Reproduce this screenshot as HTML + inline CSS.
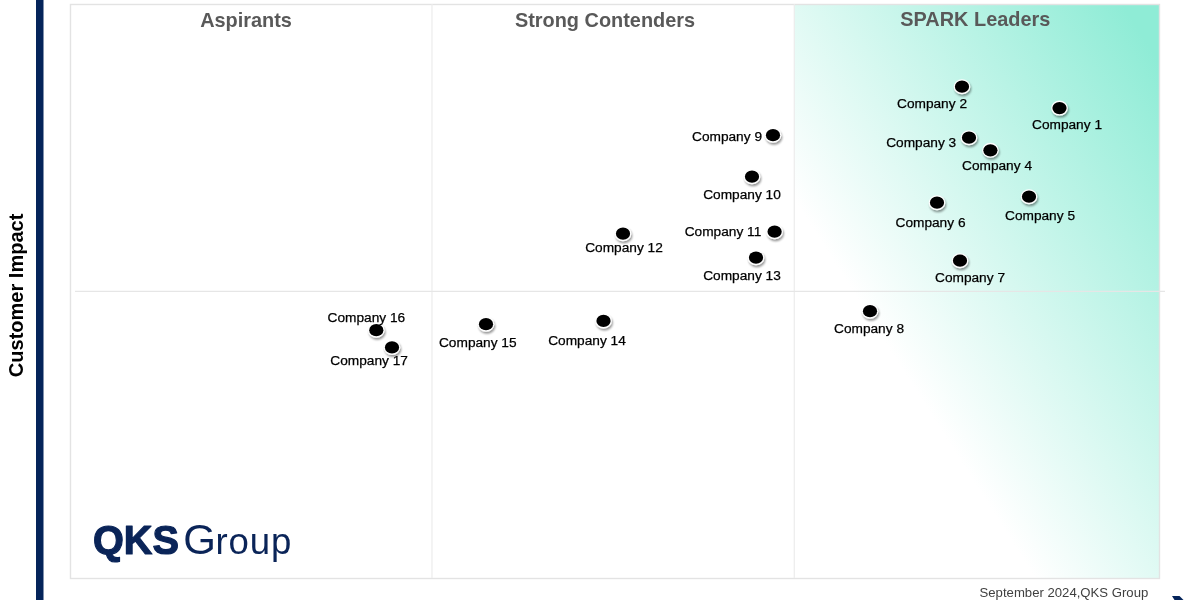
<!DOCTYPE html>
<html lang="en">
<head>
<meta charset="utf-8">
<title>SPARK Matrix</title>
<style>
html,body{margin:0;padding:0;background:#fff;}
body{width:1200px;height:600px;overflow:hidden;font-family:"Liberation Sans",Arial,sans-serif;}
svg{display:block;position:absolute;left:0;top:0;}
text{font-family:"Liberation Sans",Arial,sans-serif;}
.hd{font-weight:bold;font-size:19.9px;fill:#595959;text-anchor:middle;}
.lb{font-size:13.7px;fill:#000;stroke:#000;stroke-width:0.25px;text-anchor:middle;}
.ax{font-weight:bold;font-size:20.05px;fill:#000;text-anchor:middle;}
.ft{font-size:13.15px;fill:#404040;text-anchor:end;}
</style>
</head>
<body>
<svg width="1200" height="600" viewBox="0 0 1200 600">
<defs>
<linearGradient id="lg" x1="0" y1="1" x2="1" y2="0">
<stop offset="0" stop-color="#ffffff"/>
<stop offset="0.33" stop-color="#ffffff"/>
<stop offset="0.95" stop-color="#8fecd6"/>
<stop offset="1" stop-color="#8fecd6"/>
</linearGradient>
<filter id="sh" x="-50%" y="-50%" width="200%" height="200%">
<feGaussianBlur in="SourceAlpha" stdDeviation="1.3"/>
<feOffset dx="0.7" dy="1.9" result="b"/>
<feComponentTransfer><feFuncA type="linear" slope="0.42"/></feComponentTransfer>
<feMerge><feMergeNode/><feMergeNode in="SourceGraphic"/></feMerge>
</filter>
</defs>
<rect x="0" y="0" width="1200" height="600" fill="#ffffff"/>
<!-- leaders gradient -->
<rect x="794" y="4" width="365" height="574" fill="url(#lg)"/>
<!-- frame -->
<rect x="70.5" y="4.5" width="1089" height="574" fill="none" stroke="#e3e3e3" stroke-width="1.4"/>
<line x1="432" y1="4" x2="432" y2="578" stroke="#ececec" stroke-width="1.2"/>
<line x1="794.3" y1="4" x2="794.3" y2="578" stroke="#ececec" stroke-width="1.2"/>
<line x1="75" y1="291.3" x2="1165" y2="291.3" stroke="#e6e6e6" stroke-width="1.2"/>
<!-- axis bar -->
<rect x="36" y="0" width="7.5" height="600" fill="#05245a"/>
<path d="M1172 596 L1179.5 596 L1183.5 600 L1174.5 600 Z" fill="#05245a"/>
<text class="ax" transform="translate(22.6 295.4) rotate(-90)">Customer Impact</text>
<text class="hd" x="246" y="26.6">Aspirants</text>
<text class="hd" x="605" y="26.5">Strong Contenders</text>
<text class="hd" x="975.3" y="26.4">SPARK Leaders</text>
<ellipse cx="1059.5" cy="108.1" rx="8.3" ry="7.5" fill="#fff" filter="url(#sh)"/><ellipse cx="1059.5" cy="108.1" rx="7.1" ry="6.15" fill="#000"/>
<ellipse cx="962" cy="86.7" rx="8.3" ry="7.5" fill="#fff" filter="url(#sh)"/><ellipse cx="962" cy="86.7" rx="7.1" ry="6.15" fill="#000"/>
<ellipse cx="969" cy="137.7" rx="8.3" ry="7.5" fill="#fff" filter="url(#sh)"/><ellipse cx="969" cy="137.7" rx="7.1" ry="6.15" fill="#000"/>
<ellipse cx="990.4" cy="150.3" rx="8.3" ry="7.5" fill="#fff" filter="url(#sh)"/><ellipse cx="990.4" cy="150.3" rx="7.1" ry="6.15" fill="#000"/>
<ellipse cx="1029" cy="196.7" rx="8.3" ry="7.5" fill="#fff" filter="url(#sh)"/><ellipse cx="1029" cy="196.7" rx="7.1" ry="6.15" fill="#000"/>
<ellipse cx="937" cy="202.7" rx="8.3" ry="7.5" fill="#fff" filter="url(#sh)"/><ellipse cx="937" cy="202.7" rx="7.1" ry="6.15" fill="#000"/>
<ellipse cx="960" cy="260.7" rx="8.3" ry="7.5" fill="#fff" filter="url(#sh)"/><ellipse cx="960" cy="260.7" rx="7.1" ry="6.15" fill="#000"/>
<ellipse cx="870" cy="311.2" rx="8.3" ry="7.5" fill="#fff" filter="url(#sh)"/><ellipse cx="870" cy="311.2" rx="7.1" ry="6.15" fill="#000"/>
<ellipse cx="773" cy="135.2" rx="8.3" ry="7.5" fill="#fff" filter="url(#sh)"/><ellipse cx="773" cy="135.2" rx="7.1" ry="6.15" fill="#000"/>
<ellipse cx="752" cy="176.7" rx="8.3" ry="7.5" fill="#fff" filter="url(#sh)"/><ellipse cx="752" cy="176.7" rx="7.1" ry="6.15" fill="#000"/>
<ellipse cx="774.6" cy="231.7" rx="8.3" ry="7.5" fill="#fff" filter="url(#sh)"/><ellipse cx="774.6" cy="231.7" rx="7.1" ry="6.15" fill="#000"/>
<ellipse cx="623" cy="233.7" rx="8.3" ry="7.5" fill="#fff" filter="url(#sh)"/><ellipse cx="623" cy="233.7" rx="7.1" ry="6.15" fill="#000"/>
<ellipse cx="756" cy="257.7" rx="8.3" ry="7.5" fill="#fff" filter="url(#sh)"/><ellipse cx="756" cy="257.7" rx="7.1" ry="6.15" fill="#000"/>
<ellipse cx="603.5" cy="320.9" rx="8.3" ry="7.5" fill="#fff" filter="url(#sh)"/><ellipse cx="603.5" cy="320.9" rx="7.1" ry="6.15" fill="#000"/>
<ellipse cx="486" cy="324.2" rx="8.3" ry="7.5" fill="#fff" filter="url(#sh)"/><ellipse cx="486" cy="324.2" rx="7.1" ry="6.15" fill="#000"/>
<ellipse cx="376.3" cy="330.2" rx="8.3" ry="7.5" fill="#fff" filter="url(#sh)"/><ellipse cx="376.3" cy="330.2" rx="7.1" ry="6.15" fill="#000"/>
<ellipse cx="392" cy="347.4" rx="8.3" ry="7.5" fill="#fff" filter="url(#sh)"/><ellipse cx="392" cy="347.4" rx="7.1" ry="6.15" fill="#000"/>
<text class="lb" x="1067" y="128.5">Company 1</text>
<text class="lb" x="932" y="107.5">Company 2</text>
<text class="lb" x="921.2" y="146.8">Company 3</text>
<text class="lb" x="997" y="170.3">Company 4</text>
<text class="lb" x="1040" y="219.5">Company 5</text>
<text class="lb" x="930.5" y="227.0">Company 6</text>
<text class="lb" x="970" y="282.2">Company 7</text>
<text class="lb" x="869" y="333.0">Company 8</text>
<text class="lb" x="727" y="140.6">Company 9</text>
<text class="lb" x="742" y="198.6">Company 10</text>
<text class="lb" x="723" y="235.6">Company 11</text>
<text class="lb" x="624" y="252.3">Company 12</text>
<text class="lb" x="742" y="280.3">Company 13</text>
<text class="lb" x="587" y="344.6">Company 14</text>
<text class="lb" x="477.8" y="346.6">Company 15</text>
<text class="lb" x="366.4" y="321.9">Company 16</text>
<text class="lb" x="369.1" y="364.9">Company 17</text>
<text x="93" y="553.8" font-size="40.4" font-weight="bold" fill="#0a2458" stroke="#0a2458" stroke-width="1.2" stroke-linejoin="round" textLength="86" lengthAdjust="spacingAndGlyphs">QKS</text>
<text x="183.3" y="554" fill="#0a2458"><tspan font-size="42">G</tspan><tspan font-size="36.6" dx="-0.5" letter-spacing="0.9">roup</tspan></text>
<text class="ft" x="1148.3" y="596.7">September 2024,QKS Group</text>
</svg>
</body>
</html>
